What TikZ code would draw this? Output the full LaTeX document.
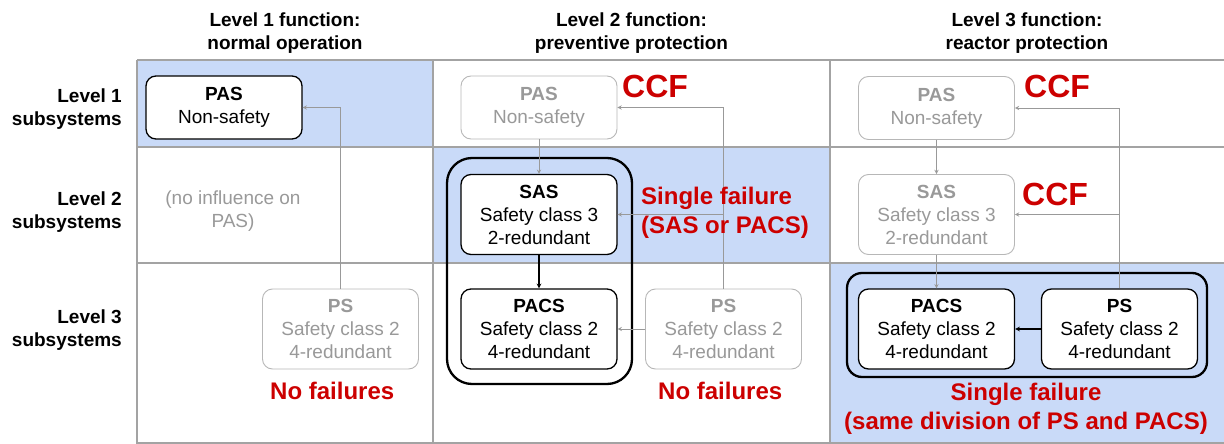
\documentclass[tikz,border=0pt]{standalone}
\usepackage{fontspec}
\setmainfont{Liberation Sans}
\usepackage{tikz}
\usepackage{xcolor}
\definecolor{cellblue}{HTML}{C9DAF8}
\definecolor{failred}{HTML}{CC0000}
\definecolor{offgray}{HTML}{999999}
\definecolor{offline}{HTML}{B7B7B7}
\definecolor{gridgray}{HTML}{A3A3A3}

\begin{document}
\begin{tikzpicture}[x=1pt,y=-1pt,
	subbox/.style={draw, line width=1.3pt, rounded corners=10pt, fill=white, minimum width=156pt, minimum height=80pt, inner sep=0pt, align=center, font=\fontsize{19}{23}\selectfont},
	offbox/.style={subbox, draw=offline, line width=0.9pt, text=offgray},
	headtxt/.style={align=center, inner sep=0pt, font=\fontsize{19}{23}\selectfont\bfseries},
	rowtxt/.style={align=right, anchor=east, inner sep=0pt, font=\fontsize{19}{23}\selectfont\bfseries},
	failtxt/.style={text=failred, inner sep=0pt, font=\fontsize{24}{29}\selectfont\bfseries},
	ccftxt/.style={text=failred, inner sep=0pt, anchor=base west, font=\fontsize{32}{36}\selectfont\bfseries},
	link/.style={draw=offgray, line width=0.9pt, ->, >=stealth},
	hotlink/.style={draw=black, line width=1.1pt, ->, >=stealth}]
	\useasboundingbox (0,0) rectangle (1224,444);
	\fill[cellblue] (137,60) rectangle (433,147);
	\fill[cellblue] (433,147) rectangle (830,263);
	\fill[cellblue] (830,263) rectangle (1224,444);
	\draw[gridgray, line width=1.8pt] (137,60) -- (1224,60) (137,147) -- (1224,147) (137,263) -- (1224,263) (137,443) -- (1224,443);
	\draw[gridgray, line width=1.8pt] (137,60) -- (137,444) (433,60) -- (433,444) (830,60) -- (830,444);

	\node[headtxt] (headA) at (285,33) {Level 1 function:\\normal operation};
	\node[headtxt] (headB) at (631.5,33) {Level 2 function:\\preventive protection};
	\node[headtxt] (headC) at (1027,33) {Level 3 function:\\reactor protection};
	\node[rowtxt] (rowA) at (122,109) {Level 1\\subsystems};
	\node[rowtxt] (rowB) at (122,212) {Level 2\\subsystems};
	\node[rowtxt] (rowC) at (122,330) {Level 3\\subsystems};

	\draw[line width=2.3pt, rounded corners=25pt] (447,158) rectangle (632,384);
	\draw[line width=2.3pt, rounded corners=15pt] (847,273) rectangle (1207,377);

	\node[subbox, minimum height=63pt] (pasA) at (224,107.5) {\textbf{PAS}\\Non-safety};
	\node[offbox] (psA) at (340.5,329) {\textbf{PS}\\Safety class 2\\4-redundant};
	\node[align=center, inner sep=0pt, text=offgray, font=\fontsize{19}{23}\selectfont] (noinf) at (233,211) {(no influence on\\PAS)};

	\node[offbox, minimum height=63pt] (pasB) at (539,107.5) {\textbf{PAS}\\Non-safety};
	\node[subbox] (sasB) at (539,214.5) {\textbf{SAS}\\Safety class 3\\2-redundant};
	\node[subbox] (pacsB) at (539,329) {\textbf{PACS}\\Safety class 2\\4-redundant};
	\node[offbox] (psB) at (723.5,329) {\textbf{PS}\\Safety class 2\\4-redundant};

	\node[offbox, minimum height=63pt] (pasC) at (936.5,108) {\textbf{PAS}\\Non-safety};
	\node[offbox] (sasC) at (936.5,214.5) {\textbf{SAS}\\Safety class 3\\2-redundant};
	\node[subbox] (pacsC) at (936.5,329) {\textbf{PACS}\\Safety class 2\\4-redundant};
	\node[subbox] (psC) at (1119.5,329) {\textbf{PS}\\Safety class 2\\4-redundant};

	\draw[link] (psA.north) |- (pasA.east);
	\draw[link] (pasB.south) -- (sasB.north);
	\draw[link] (psB.north) |- (pasB.east);
	\draw[link] (psB.north |- sasB.east) -- (sasB.east);
	\draw[link] (psB.west) -- (pacsB.east);
	\draw[hotlink] (sasB.south) -- (pacsB.north);
	\draw[link] (pasC.south) -- (sasC.north);
	\draw[link] (sasC.south) -- (pacsC.north);
	\draw[link] (psC.north) |- (pasC.east);
	\draw[link] (psC.north |- sasC.east) -- (sasC.east);
	\draw[hotlink] (psC.west) -- (pacsC.east);

	\node[ccftxt] (ccfB) at (622,98) {CCF};
	\node[ccftxt] (ccfC) at (1024,98) {CCF};
	\node[ccftxt] (ccfS) at (1022,205) {CCF};
	\node[failtxt, align=left, anchor=west] (singleB) at (641,212.5) {Single failure\\(SAS or PACS)};
	\node[failtxt, anchor=base west] (noneA) at (270,399) {No failures};
	\node[failtxt, anchor=base west] (noneB) at (658,399) {No failures};
	\node[failtxt, align=center] (singleC) at (1026,409) {Single failure\\(same division of PS and PACS)};
\end{tikzpicture}
\end{document}
